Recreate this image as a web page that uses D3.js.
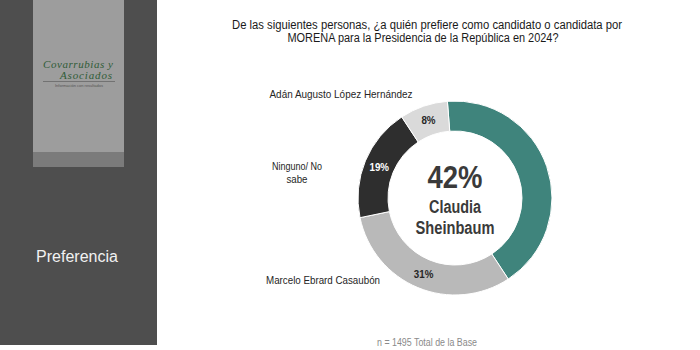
<!DOCTYPE html>
<html>
<head>
<meta charset="utf-8">
<script src="https://cdn.jsdelivr.net/npm/d3@7"></script>
<style>
  body { margin: 0; background: #fff; }
  svg { display: block; }
  text { font-family: "Liberation Sans", Arial, sans-serif; }
</style>
</head>
<body>
<div id="chart"></div>
<script>
// Chart data
const categories = ["Claudia Sheinbaum", "Marcelo Ebrard Casaubón", "Ninguno/ No sabe", "Adán Augusto López Hernández"];
const values = [42, 31, 19, 8];
const colors = ["#3f847c", "#b9b9b9", "#2e2e2e", "#dadada"];
const valueTextColors = [null, "#262626", "#ffffff", "#262626"];

const width = 700;
const height = 350;

// squeeze text horizontally to mimic the condensed face of the original
function narrow(sel, factor) {
    sel.each(function () {
        const w = this.getComputedTextLength();
        d3.select(this).attr("textLength", w * factor).attr("lengthAdjust", "spacingAndGlyphs");
    });
}

const svg = d3.select("#chart").append("svg")
    .attr("width", width)
    .attr("height", height);

// Left side panel
svg.append("rect").attr("x", 0).attr("y", 0).attr("width", 157).attr("height", 345).attr("fill", "#4e4e4e");
svg.append("rect").attr("x", 33).attr("y", 0).attr("width", 91).attr("height", 152).attr("fill", "#9d9d9d");
svg.append("rect").attr("x", 33).attr("y", 152).attr("width", 91).attr("height", 15).attr("fill", "#7b7b7b");

// Logo
const logo = svg.append("g").attr("fill", "#2f5c37");
logo.append("text").attr("x", 43).attr("y", 68).attr("font-size", 11)
    .style("font-family", "\"Liberation Serif\", serif").attr("font-style", "italic")
    .attr("textLength", 70).text("Covarrubias y");
logo.append("text").attr("x", 60).attr("y", 79).attr("font-size", 11)
    .style("font-family", "\"Liberation Serif\", serif").attr("font-style", "italic")
    .attr("textLength", 52).text("Asociados");
svg.append("line").attr("x1", 43).attr("x2", 115).attr("y1", 81.5).attr("y2", 81.5)
    .attr("stroke", "#555").attr("stroke-width", 0.6);
svg.append("text").attr("x", 79).attr("y", 87).attr("text-anchor", "middle")
    .attr("font-size", 4).attr("fill", "#555")
    .text("Información con resultados");

svg.append("text").attr("x", 77).attr("y", 262).attr("text-anchor", "middle")
    .attr("font-size", 16).attr("fill", "#f2f2f2").text("Preferencia");

// Title
const title = svg.append("text").attr("text-anchor", "middle")
    .attr("font-size", 12).attr("fill", "#1a1a1a");
title.append("tspan").attr("x", 427).attr("y", 29)
    .attr("textLength", 390).attr("lengthAdjust", "spacingAndGlyphs")
    .text("De las siguientes personas, ¿a quién prefiere como candidato o candidata por");
title.append("tspan").attr("x", 423).attr("y", 42)
    .attr("textLength", 271).attr("lengthAdjust", "spacingAndGlyphs")
    .text("MORENA para la Presidencia de la República en 2024?");

// Donut
const cx = 455, cy = 198;
const outerR = 97, innerR = 67;
const offset = -4.5 * Math.PI / 180;

const pie = d3.pie().sort(null)
    .startAngle(offset).endAngle(2 * Math.PI + offset);
const arcs = pie(values);
const arc = d3.arc().innerRadius(innerR).outerRadius(outerR);
const labelArc = d3.arc().innerRadius(82).outerRadius(82);

const g = svg.append("g").attr("transform", `translate(${cx},${cy})`);
g.selectAll("path")
    .data(arcs)
    .enter()
    .append("path")
    .attr("d", arc)
    .attr("fill", (d, i) => colors[i])
    .attr("stroke", "#fff")
    .attr("stroke-width", 1);

g.selectAll("text.val")
    .data(arcs.filter((d, i) => i > 0))
    .enter()
    .append("text")
    .attr("class", "val")
    .attr("transform", d => `translate(${labelArc.centroid(d)})`)
    .attr("text-anchor", "middle")
    .attr("dy", "0.35em")
    .attr("font-size", 11.5)
    .attr("font-weight", "bold")
    .attr("fill", d => valueTextColors[d.index])
    .text(d => d.data + "%")
    .call(narrow, 0.85);

// Center text
const center = g.append("text").attr("text-anchor", "middle")
    .attr("font-weight", "bold").attr("fill", "#3a3a3a");
center.append("tspan").attr("x", 0).attr("y", -10).attr("font-size", 32)
    .attr("textLength", 55).attr("lengthAdjust", "spacingAndGlyphs").text(values[0] + "%");
const nameParts = categories[0].split(" ");
center.append("tspan").attr("x", 0).attr("y", 15).attr("font-size", 17.5)
    .attr("textLength", 52).attr("lengthAdjust", "spacingAndGlyphs").text(nameParts[0]);
center.append("tspan").attr("x", 0).attr("y", 36).attr("font-size", 17.5)
    .attr("textLength", 79).attr("lengthAdjust", "spacingAndGlyphs").text(nameParts[1]);

// Category labels on the left
const catLabels = svg.append("g").attr("font-size", 11)
    .attr("fill", "#262626").attr("text-anchor", "middle");
catLabels.append("text").attr("x", 341).attr("y", 98)
    .attr("textLength", 143).attr("lengthAdjust", "spacingAndGlyphs").text(categories[3]);
const ning = catLabels.append("text");
ning.append("tspan").attr("x", 297).attr("y", 170)
    .attr("textLength", 50).attr("lengthAdjust", "spacingAndGlyphs").text("Ninguno/ No");
ning.append("tspan").attr("x", 297).attr("y", 183)
    .attr("textLength", 21).attr("lengthAdjust", "spacingAndGlyphs").text("sabe");
catLabels.append("text").attr("x", 323).attr("y", 284)
    .attr("textLength", 114).attr("lengthAdjust", "spacingAndGlyphs").text(categories[1]);

// Footer
svg.append("text").attr("x", 427).attr("y", 346)
    .attr("text-anchor", "middle").attr("font-size", 10).attr("fill", "#8a8a8a")
    .attr("textLength", 100).attr("lengthAdjust", "spacingAndGlyphs")
    .text("n = 1495 Total de la Base");
</script>
</body>
</html>
